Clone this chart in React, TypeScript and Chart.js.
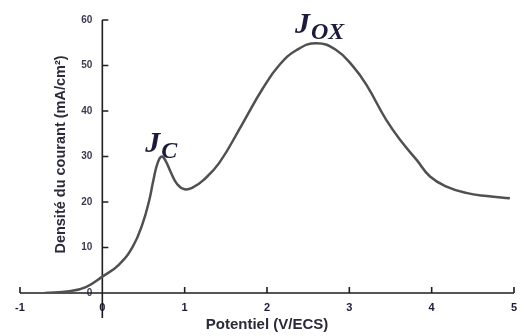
import React, { useEffect, useRef } from "react";
import { Chart, registerables } from "chart.js";

Chart.register(...registerables);

// Data
const potentials = [-0.7, -0.4, -0.2, 0, 0.2, 0.37, 0.49, 0.57, 0.62, 0.67, 0.72, 0.77, 0.83, 0.91, 1.0, 1.1, 1.22, 1.42, 1.705, 1.95, 2.15, 2.36, 2.6, 2.84, 3.05, 3.21, 3.45, 3.65, 3.82, 3.98, 4.18, 4.42, 4.67, 4.95];
const currents = [0, 0.4, 1.3, 3.6, 6.2, 10.2, 15.3, 20.4, 24.8, 28.5, 30.0, 29.0, 26.6, 23.9, 22.8, 23.2, 24.7, 28.6, 37.3, 45.0, 50.1, 53.4, 54.9, 53.4, 49.7, 45.7, 38.0, 32.9, 29.2, 25.6, 23.4, 22.0, 21.3, 20.8];

const xTickValues = [-1, 0, 1, 2, 3, 4, 5];
const yTickValues = [0, 10, 20, 30, 40, 50, 60];

const xTitle = "Potentiel (V/ECS)";
const yTitle = "Densité du courant (mA/cm²)";

// Peak labels: [main letter, subscript, anchor potential, anchor current]
const peakLabels: [string, string, number, number][] = [
  ["J", "C", 0.52, 31.0],
  ["J", "OX", 2.34, 57.2],
];

const AXIS_COLOR = "#1e1e1e";
const LABEL_COLOR = "#1c1c3a";
const CURVE_COLOR = "#505050";

const decorPlugin = {
  id: "decor",
  beforeDatasetsDraw(chart: any) {
    const { ctx, scales, chartArea } = chart;
    const x = scales.x;
    const y = scales.y;
    const x0 = x.getPixelForValue(0);
    const y0 = y.getPixelForValue(0);
    ctx.save();

    // y tick labels (left of the axis crossing at potential 0)
    ctx.fillStyle = "#3a3a50";
    ctx.font = "bold 10px 'Liberation Sans', Arial, sans-serif";
    ctx.textAlign = "right";
    ctx.textBaseline = "middle";
    y.ticks.forEach((t: any) => {
      ctx.fillText(String(t.value), x0 - 10, y.getPixelForValue(t.value));
    });

    ctx.strokeStyle = AXIS_COLOR;
    ctx.lineWidth = 1.6;
    ctx.beginPath();
    ctx.moveTo(x.getPixelForValue(xTickValues[0]), y0);
    ctx.lineTo(x.getPixelForValue(xTickValues[xTickValues.length - 1]), y0);
    ctx.moveTo(x0, y.getPixelForValue(yTickValues[yTickValues.length - 1]));
    ctx.lineTo(x0, y0 + 25);
    xTickValues.forEach((v) => {
      const px = x.getPixelForValue(v);
      ctx.moveTo(px, y0);
      ctx.lineTo(px, y0 - 6);
    });
    yTickValues.forEach((v) => {
      const py = y.getPixelForValue(v);
      ctx.moveTo(x0, py);
      ctx.lineTo(x0 + 6, py);
    });
    ctx.stroke();

    // axis titles
    ctx.fillStyle = "#2a2a3a";
    ctx.font = "bold 15px 'Liberation Sans', Arial, sans-serif";
    ctx.textAlign = "center";
    ctx.textBaseline = "middle";
    ctx.fillText(xTitle, (chartArea.left + chartArea.right) / 2, 325);
    ctx.save();
    ctx.translate(x0 - 41, (chartArea.top + chartArea.bottom) / 2 - 2);
    ctx.rotate(-Math.PI / 2);
    ctx.font = "bold 14.5px 'Liberation Sans', Arial, sans-serif";
    ctx.fillText(yTitle, 0, 0);
    ctx.restore();

    // peak labels
    ctx.fillStyle = LABEL_COLOR;
    ctx.textAlign = "left";
    ctx.textBaseline = "alphabetic";
    peakLabels.forEach(([main, sub, px, py]) => {
      const lx = x.getPixelForValue(px);
      const ly = y.getPixelForValue(py);
      ctx.font = "bold italic 30px 'Liberation Serif', 'Times New Roman', serif";
      ctx.fillText(main, lx, ly);
      const w = ctx.measureText(main).width;
      ctx.font = "bold italic 24px 'Liberation Serif', 'Times New Roman', serif";
      ctx.fillText(sub, lx + w + 1, ly + 6);
    });
    ctx.restore();
  },
};

export default function App() {
  const ref = useRef<HTMLCanvasElement>(null);
  useEffect(() => {
    const chart = new Chart(ref.current as HTMLCanvasElement, {
      type: "line",
      data: {
        datasets: [
          {
            data: potentials.map((p, i) => ({ x: p, y: currents[i] })),
            borderColor: CURVE_COLOR,
            borderWidth: 2.5,
            pointRadius: 0,
            fill: false,
            tension: 0.45,
          },
        ],
      },
      options: {
        animation: false,
        responsive: true,
        maintainAspectRatio: false,
        layout: { padding: { left: 20, right: 16, top: 20, bottom: 43 } },
        plugins: { legend: { display: false }, tooltip: { enabled: false } },
        scales: {
          x: {
            type: "linear",
            min: -1,
            max: 5,
            position: { y: 0 } as any,
            afterBuildTicks: (s: any) => {
              s.ticks = xTickValues.map((v) => ({ value: v }));
            },
            ticks: {
              color: LABEL_COLOR,
              font: { family: "'Liberation Sans', Arial, sans-serif", size: 11, weight: "bold" },
              padding: 8,
            },
            grid: { display: false, drawTicks: false },
            border: { display: false },
          },
          y: {
            type: "linear",
            min: 0,
            max: 60,
            position: { x: 0 } as any,
            afterBuildTicks: (s: any) => {
              s.ticks = yTickValues.map((v) => ({ value: v }));
            },
            ticks: { display: false },
            grid: { display: false, drawTicks: false },
            border: { display: false },
          },
        },
      },
      plugins: [decorPlugin],
    });
    return () => chart.destroy();
  }, []);
  return (
    <div style={{ position: "fixed", left: 0, top: 0, width: 530, height: 336, background: "#fff" }}>
      <canvas ref={ref} />
    </div>
  );
}
